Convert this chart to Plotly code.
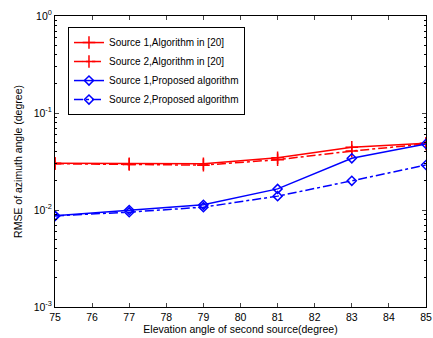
import plotly.graph_objects as go

x_vals = [75, 77, 79, 81, 83, 85]
s1_ref20 = [0.0303, 0.0300, 0.0300, 0.0346, 0.0443, 0.0487]
s2_ref20 = [0.0300, 0.0295, 0.0290, 0.0330, 0.0405, 0.0480]
s1_prop = [0.0087, 0.0100, 0.0113, 0.0165, 0.0341, 0.0480]
s2_prop = [0.0087, 0.0095, 0.0107, 0.0139, 0.0200, 0.0291]

names = ["Source 1,Algorithm in [20]", "Source 2,Algorithm in [20]",
         "Source 1,Proposed algorithm", "Source 2,Proposed algorithm"]
series = [s1_ref20, s2_ref20, s1_prop, s2_prop]
colors = ["#ff0000", "#ff0000", "#0000ff", "#0000ff"]
dashes = ["solid", "dashdot", "solid", "dashdot"]
symbols = ["cross-thin-open", "cross-thin-open", "diamond-open", "diamond-open"]
sizes = [9, 9, 7, 7]

y_tickvals = [1e-3, 1e-2, 1e-1, 1]
y_ticktext = ["10<sup>-3</sup>", "10<sup>-2</sup>", "10<sup>-1</sup>", "10<sup>0</sup>"]
y_minor = [m * 10.0 ** e for e in (-3, -2, -1) for m in range(2, 10)]
x_tickvals = list(range(75, 86))

fig = go.Figure()
for name, ys, c, d, s, sz in zip(names, series, colors, dashes, symbols, sizes):
    fig.add_trace(go.Scatter(
        x=x_vals, y=ys, name=name, mode="lines+markers",
        line=dict(color=c, width=1.5, dash=d),
        marker=dict(symbol=s, size=sz, color=c, line=dict(color=c, width=1.5)),
    ))

fig.update_layout(
    width=433, height=338,
    margin=dict(l=55, r=7, t=16, b=31),
    paper_bgcolor="white", plot_bgcolor="white",
    font=dict(family="Liberation Sans, Arial", size=10.5, color="black"),
    showlegend=True,
    legend=dict(x=0.035, y=0.962, xanchor="left", yanchor="top",
                bgcolor="white", bordercolor="black", borderwidth=1,
                font=dict(size=10), tracegroupgap=0, itemwidth=30),
)
fig.update_xaxes(
    range=[75, 85], tickvals=x_tickvals, ticks="inside", ticklen=4,
    showline=True, linecolor="black", linewidth=1, mirror="ticks",
    showgrid=False, zeroline=False, automargin=False,
    title=dict(text="Elevation angle of second source(degree)", font=dict(size=10.5), standoff=0),
    tickfont=dict(size=10.5),
)
fig.update_yaxes(
    type="log", range=[-3, 0], tickvals=y_tickvals, ticktext=y_ticktext,
    ticks="inside", ticklen=4,
    minor=dict(ticks="inside", ticklen=2, tickcolor="black", showgrid=False,
               tickmode="array", tickvals=y_minor),
    showline=True, linecolor="black", linewidth=1, mirror="ticks",
    showgrid=False, zeroline=False, automargin=False,
    title=dict(text="RMSE of azimuth angle (degree)", font=dict(size=10.5), standoff=9),
    tickfont=dict(size=10.5),
)

fig.write_html("out.html", config={"displayModeBar": False},
               post_script="document.body.style.margin='0';")
